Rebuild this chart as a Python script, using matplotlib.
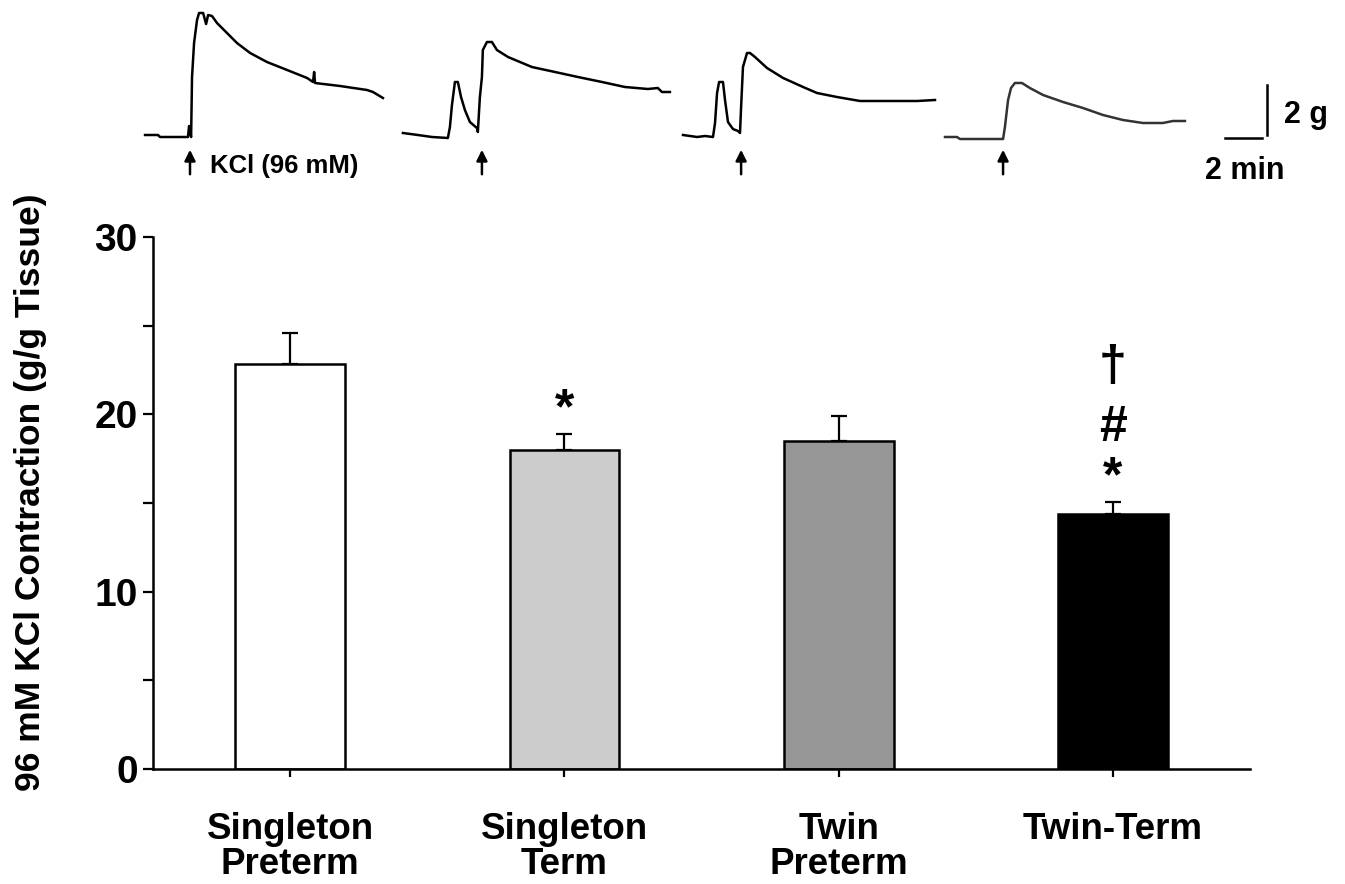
import matplotlib
matplotlib.use('Agg')
import matplotlib.pyplot as plt

plt.rcParams['font.family'] = ['Liberation Sans', 'DejaVu Sans']
plt.rcParams['font.weight'] = 'bold'

# datos de las barras
grupos = ['Singleton\nPreterm', 'Singleton\nTerm', 'Twin\nPreterm', 'Twin-Term']
contraccion = [22.85, 18.0, 18.5, 14.4]
error = [1.75, 0.9, 1.4, 0.65]
colores = ['#ffffff', '#cccccc', '#969696', '#000000']
# marcas de significancia (de abajo hacia arriba)
marcas = [[], ['*'], [], ['*', '#', '\u2020']]

# registros de tension (min desde el inicio del trazo, g sobre la linea base)
traza1_t = [0, 0.70, 0.81, 2.32, 2.38, 2.49, 2.54, 2.65, 2.81, 2.92, 3.14, 3.30, 3.41, 3.62,
            3.89, 4.43, 4.97, 5.68, 6.59, 7.68, 8.76, 9.08, 9.14, 9.19, 10.54, 12.0, 12.32, 12.86]
traza1_g = [0.08, 0.08, 0, 0, 0.44, 0, 2.4, 3.76, 4.68, 4.96, 4.96, 4.52, 4.88, 4.84,
            4.56, 4.16, 3.76, 3.36, 3.0, 2.68, 2.36, 2.2, 2.6, 2.16, 2.04, 1.88, 1.8, 1.56]
traza2_t = [0, 0.81, 1.57, 2.43, 2.54, 2.65, 2.81, 2.97, 3.14, 3.35, 3.62, 4.0, 4.05, 4.16,
            4.27, 4.32, 4.54, 4.81, 5.08, 5.68, 6.97, 8.22, 9.46, 10.76, 12.0, 13.24, 13.78, 14.0, 14.43]
traza2_g = [0.16, 0.08, 0, -0.04, 0.4, 1.28, 2.2, 2.2, 1.6, 1.08, 0.6, 0.36, 0.2, 1.6,
            2.4, 3.48, 3.8, 3.8, 3.48, 3.2, 2.8, 2.6, 2.4, 2.2, 2.0, 1.92, 1.96, 1.8, 1.8]
traza3_t = [0, 0.76, 1.19, 1.62, 1.73, 1.84, 1.95, 2.16, 2.27, 2.43, 2.70, 2.97, 3.08, 3.14,
            3.24, 3.46, 3.62, 3.89, 4.54, 5.41, 6.49, 7.24, 8.32, 9.57, 11.03, 12.65, 13.62]
traza3_g = [0.08, 0, 0.04, 0, 0.56, 1.76, 2.2, 2.2, 1.48, 0.6, 0.32, 0.24, 0.16, 1.2,
            2.8, 3.36, 3.36, 3.2, 2.76, 2.36, 2.0, 1.76, 1.6, 1.44, 1.44, 1.44, 1.48]
traza4_t = [0, 0.65, 0.81, 3.14, 3.24, 3.41, 3.57, 3.78, 4.16, 4.59, 5.30, 6.38, 7.46, 8.54,
            9.62, 10.70, 11.78, 12.32, 12.97]
traza4_g = [0.08, 0.08, 0, 0, 0.48, 1.56, 2.04, 2.24, 2.24, 2.04, 1.76, 1.48, 1.24, 0.96,
            0.76, 0.64, 0.64, 0.72, 0.72]
# momento en que se agrega KCl en cada trazo (min)
kcl_t = [2.43, 4.27, 3.14, 3.14]

fig = plt.figure(figsize=(13.45, 8.84), dpi=100)

# ---------- grafico de barras ----------
ax = fig.add_axes([0.1138, 0.1301, 0.8156, 0.6018])
x = range(len(grupos))
ax.bar(x, contraccion, width=0.4, color=colores, edgecolor='black', linewidth=1.8, zorder=2)
ax.errorbar(x, contraccion, yerr=[[0] * len(error), error], fmt='none', ecolor='black',
            elinewidth=1.6, capsize=6, capthick=1.6, zorder=1)

# offsets (puntos) de cada simbolo sobre el extremo de la barra de error
offsets = [17, 53, 97]
for i, simbolos in enumerate(marcas):
    for j, s in enumerate(simbolos):
        ax.annotate(s, xy=(i, contraccion[i] + error[i]), xytext=(0, offsets[j]),
                    textcoords='offset points', ha='center', va='center',
                    fontsize=36, fontweight='bold')

ax.set_xlim(-0.5, 3.5)
ax.set_ylim(0, 30)
ax.set_yticks([0, 5, 10, 15, 20, 25, 30])
ax.set_yticklabels(['0', '', '10', '', '20', '', '30'])
ax.set_xticks(list(x))
ax.set_xticklabels(grupos, fontsize=26.5, fontweight='bold', linespacing=1.0)
ax.tick_params(axis='y', labelsize=28, width=1.6, length=7, pad=4)
ax.tick_params(axis='x', width=1.6, length=6, pad=25)
ax.set_ylabel('96 mM KCl Contraction (g/g Tissue)', fontsize=25.5, fontweight='bold')
ax.yaxis.set_label_coords(-0.097, 0.52)
for lado in ['top', 'right']:
    ax.spines[lado].set_visible(False)
for lado in ['left', 'bottom']:
    ax.spines[lado].set_linewidth(1.8)

# ---------- trazos de tension ----------
at = fig.add_axes([0, 1 - 190 / 884, 1, 190 / 884])
at.set_xlim(0, 1345 / 18.5)
at.set_ylim(-2.12, 5.48)
at.axis('off')

trazas = [(traza1_t, traza1_g), (traza2_t, traza2_g), (traza3_t, traza3_g), (traza4_t, traza4_g)]
inicio = [7.84, 21.78, 36.92, 51.08]
base = [0, 0, 0, -0.08]
for k, (tt, gg) in enumerate(trazas):
    color = '#333333' if k == 3 else 'black'
    at.plot([t + inicio[k] for t in tt], [g + base[k] for g in gg], color=color, lw=1.8)
    at.annotate('', xy=(kcl_t[k] + inicio[k], -0.4), xytext=(kcl_t[k] + inicio[k], -1.6),
                arrowprops=dict(arrowstyle='-|>', color='black', lw=1.8, mutation_scale=16))

at.text(11.35, -1.15, 'KCl (96 mM)', fontsize=18.5, fontweight='bold', ha='left', va='center')

# barra de escala: 2 g y 2 min
at.plot([68.5, 68.5], [0.08, 2.08], color='black', lw=1.8)
at.plot([66.2, 68.2], [-0.04, -0.04], color='black', lw=1.8)
at.text(69.4, 0.9, '2 g', fontsize=22, fontweight='bold', ha='left', va='center')
at.text(67.3, -1.35, '2 min', fontsize=22, fontweight='bold', ha='center', va='center')

plt.savefig('out.png', dpi=100)
